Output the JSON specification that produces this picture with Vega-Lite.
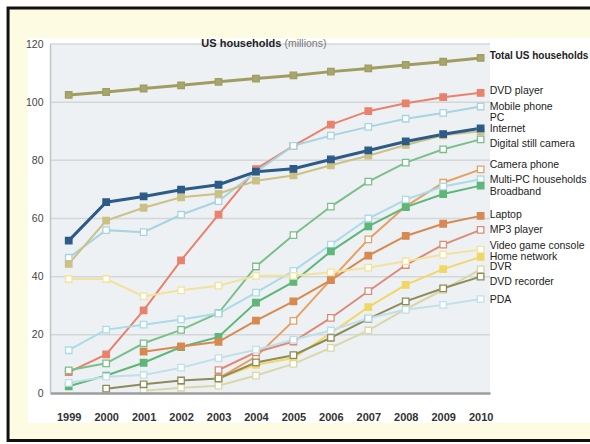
{
  "$schema": "https://vega.github.io/schema/vega-lite/v6.json",
  "width": 440,
  "height": 349,
  "autosize": "none",
  "padding": {"left": 50, "top": 44, "right": 100, "bottom": 51},
  "background": "#ffffff",
  "view": {"stroke": null},
  "resolve": {"axis": {"x": "independent", "y": "independent"}},
  "config": {
    "font": "Liberation Sans, Arial, sans-serif",
    "axis": {"grid": false, "ticks": false, "title": null, "labelFont": "Liberation Sans, Arial, sans-serif"},
    "text": {"font": "Liberation Sans, Arial, sans-serif"}
  },
  "datasets": {
    "series": [
      {"s": "Total US households", "year": 1999, "v": 102.5}, {"s": "Total US households", "year": 2000, "v": 103.5}, {"s": "Total US households", "year": 2001, "v": 104.7}, {"s": "Total US households", "year": 2002, "v": 105.8}, {"s": "Total US households", "year": 2003, "v": 107.0}, {"s": "Total US households", "year": 2004, "v": 108.1}, {"s": "Total US households", "year": 2005, "v": 109.2}, {"s": "Total US households", "year": 2006, "v": 110.5}, {"s": "Total US households", "year": 2007, "v": 111.6}, {"s": "Total US households", "year": 2008, "v": 112.8}, {"s": "Total US households", "year": 2009, "v": 113.9}, {"s": "Total US households", "year": 2010, "v": 115.2},
      {"s": "DVD player", "year": 1999, "v": 7.2}, {"s": "DVD player", "year": 2000, "v": 13.3}, {"s": "DVD player", "year": 2001, "v": 28.4}, {"s": "DVD player", "year": 2002, "v": 45.6}, {"s": "DVD player", "year": 2003, "v": 61.3}, {"s": "DVD player", "year": 2004, "v": 77.0}, {"s": "DVD player", "year": 2005, "v": 85.0}, {"s": "DVD player", "year": 2006, "v": 92.3}, {"s": "DVD player", "year": 2007, "v": 96.9}, {"s": "DVD player", "year": 2008, "v": 99.6}, {"s": "DVD player", "year": 2009, "v": 101.7}, {"s": "DVD player", "year": 2010, "v": 103.2},
      {"s": "Mobile phone", "year": 1999, "v": 46.5}, {"s": "Mobile phone", "year": 2000, "v": 56.0}, {"s": "Mobile phone", "year": 2001, "v": 55.3}, {"s": "Mobile phone", "year": 2002, "v": 61.3}, {"s": "Mobile phone", "year": 2003, "v": 66.0}, {"s": "Mobile phone", "year": 2004, "v": 76.0}, {"s": "Mobile phone", "year": 2005, "v": 85.0}, {"s": "Mobile phone", "year": 2006, "v": 88.5}, {"s": "Mobile phone", "year": 2007, "v": 91.5}, {"s": "Mobile phone", "year": 2008, "v": 94.3}, {"s": "Mobile phone", "year": 2009, "v": 96.3}, {"s": "Mobile phone", "year": 2010, "v": 98.5},
      {"s": "Internet", "year": 1999, "v": 44.4}, {"s": "Internet", "year": 2000, "v": 59.3}, {"s": "Internet", "year": 2001, "v": 63.7}, {"s": "Internet", "year": 2002, "v": 67.3}, {"s": "Internet", "year": 2003, "v": 68.5}, {"s": "Internet", "year": 2004, "v": 73.0}, {"s": "Internet", "year": 2005, "v": 74.8}, {"s": "Internet", "year": 2006, "v": 78.3}, {"s": "Internet", "year": 2007, "v": 81.6}, {"s": "Internet", "year": 2008, "v": 85.3}, {"s": "Internet", "year": 2009, "v": 88.6}, {"s": "Internet", "year": 2010, "v": 90.0},
      {"s": "PC", "year": 1999, "v": 52.4}, {"s": "PC", "year": 2000, "v": 65.6}, {"s": "PC", "year": 2001, "v": 67.6}, {"s": "PC", "year": 2002, "v": 69.9}, {"s": "PC", "year": 2003, "v": 71.6}, {"s": "PC", "year": 2004, "v": 76.1}, {"s": "PC", "year": 2005, "v": 77.1}, {"s": "PC", "year": 2006, "v": 80.3}, {"s": "PC", "year": 2007, "v": 83.4}, {"s": "PC", "year": 2008, "v": 86.5}, {"s": "PC", "year": 2009, "v": 89.0}, {"s": "PC", "year": 2010, "v": 91.0},
      {"s": "Digital still camera", "year": 1999, "v": 7.8}, {"s": "Digital still camera", "year": 2000, "v": 10.2}, {"s": "Digital still camera", "year": 2001, "v": 17.1}, {"s": "Digital still camera", "year": 2002, "v": 21.7}, {"s": "Digital still camera", "year": 2003, "v": 27.5}, {"s": "Digital still camera", "year": 2004, "v": 43.5}, {"s": "Digital still camera", "year": 2005, "v": 54.3}, {"s": "Digital still camera", "year": 2006, "v": 64.1}, {"s": "Digital still camera", "year": 2007, "v": 72.7}, {"s": "Digital still camera", "year": 2008, "v": 79.2}, {"s": "Digital still camera", "year": 2009, "v": 83.8}, {"s": "Digital still camera", "year": 2010, "v": 87.2},
      {"s": "Camera phone", "year": 2003, "v": 5.0}, {"s": "Camera phone", "year": 2004, "v": 12.5}, {"s": "Camera phone", "year": 2005, "v": 24.8}, {"s": "Camera phone", "year": 2006, "v": 39.0}, {"s": "Camera phone", "year": 2007, "v": 52.8}, {"s": "Camera phone", "year": 2008, "v": 64.2}, {"s": "Camera phone", "year": 2009, "v": 72.3}, {"s": "Camera phone", "year": 2010, "v": 76.9},
      {"s": "Multi-PC households", "year": 1999, "v": 14.7}, {"s": "Multi-PC households", "year": 2000, "v": 21.8}, {"s": "Multi-PC households", "year": 2001, "v": 23.5}, {"s": "Multi-PC households", "year": 2002, "v": 25.3}, {"s": "Multi-PC households", "year": 2003, "v": 27.3}, {"s": "Multi-PC households", "year": 2004, "v": 34.5}, {"s": "Multi-PC households", "year": 2005, "v": 42.0}, {"s": "Multi-PC households", "year": 2006, "v": 51.0}, {"s": "Multi-PC households", "year": 2007, "v": 60.0}, {"s": "Multi-PC households", "year": 2008, "v": 66.5}, {"s": "Multi-PC households", "year": 2009, "v": 71.0}, {"s": "Multi-PC households", "year": 2010, "v": 73.5},
      {"s": "Broadband", "year": 1999, "v": 2.3}, {"s": "Broadband", "year": 2000, "v": 6.0}, {"s": "Broadband", "year": 2001, "v": 10.4}, {"s": "Broadband", "year": 2002, "v": 15.8}, {"s": "Broadband", "year": 2003, "v": 19.3}, {"s": "Broadband", "year": 2004, "v": 31.1}, {"s": "Broadband", "year": 2005, "v": 38.2}, {"s": "Broadband", "year": 2006, "v": 48.7}, {"s": "Broadband", "year": 2007, "v": 57.3}, {"s": "Broadband", "year": 2008, "v": 63.9}, {"s": "Broadband", "year": 2009, "v": 68.4}, {"s": "Broadband", "year": 2010, "v": 71.3},
      {"s": "Laptop", "year": 2001, "v": 14.2}, {"s": "Laptop", "year": 2002, "v": 16.0}, {"s": "Laptop", "year": 2003, "v": 17.6}, {"s": "Laptop", "year": 2004, "v": 24.9}, {"s": "Laptop", "year": 2005, "v": 31.5}, {"s": "Laptop", "year": 2006, "v": 38.8}, {"s": "Laptop", "year": 2007, "v": 47.2}, {"s": "Laptop", "year": 2008, "v": 54.0}, {"s": "Laptop", "year": 2009, "v": 58.2}, {"s": "Laptop", "year": 2010, "v": 60.9},
      {"s": "MP3 player", "year": 2003, "v": 7.9}, {"s": "MP3 player", "year": 2004, "v": 14.0}, {"s": "MP3 player", "year": 2005, "v": 17.7}, {"s": "MP3 player", "year": 2006, "v": 25.8}, {"s": "MP3 player", "year": 2007, "v": 35.0}, {"s": "MP3 player", "year": 2008, "v": 44.0}, {"s": "MP3 player", "year": 2009, "v": 51.0}, {"s": "MP3 player", "year": 2010, "v": 56.1},
      {"s": "Video game console", "year": 1999, "v": 39.2}, {"s": "Video game console", "year": 2000, "v": 39.2}, {"s": "Video game console", "year": 2001, "v": 33.2}, {"s": "Video game console", "year": 2002, "v": 35.3}, {"s": "Video game console", "year": 2003, "v": 36.9}, {"s": "Video game console", "year": 2004, "v": 40.3}, {"s": "Video game console", "year": 2005, "v": 40.3}, {"s": "Video game console", "year": 2006, "v": 41.5}, {"s": "Video game console", "year": 2007, "v": 43.1}, {"s": "Video game console", "year": 2008, "v": 45.3}, {"s": "Video game console", "year": 2009, "v": 47.6}, {"s": "Video game console", "year": 2010, "v": 49.3},
      {"s": "Home network", "year": 2003, "v": 5.0}, {"s": "Home network", "year": 2004, "v": 9.7}, {"s": "Home network", "year": 2005, "v": 12.0}, {"s": "Home network", "year": 2006, "v": 20.6}, {"s": "Home network", "year": 2007, "v": 29.5}, {"s": "Home network", "year": 2008, "v": 37.2}, {"s": "Home network", "year": 2009, "v": 42.6}, {"s": "Home network", "year": 2010, "v": 46.8},
      {"s": "DVR", "year": 2001, "v": 0.8}, {"s": "DVR", "year": 2002, "v": 1.8}, {"s": "DVR", "year": 2003, "v": 2.5}, {"s": "DVR", "year": 2004, "v": 6.0}, {"s": "DVR", "year": 2005, "v": 10.0}, {"s": "DVR", "year": 2006, "v": 15.5}, {"s": "DVR", "year": 2007, "v": 21.5}, {"s": "DVR", "year": 2008, "v": 28.8}, {"s": "DVR", "year": 2009, "v": 35.5}, {"s": "DVR", "year": 2010, "v": 42.5},
      {"s": "DVD recorder", "year": 2000, "v": 1.5}, {"s": "DVD recorder", "year": 2001, "v": 3.0}, {"s": "DVD recorder", "year": 2002, "v": 4.3}, {"s": "DVD recorder", "year": 2003, "v": 5.0}, {"s": "DVD recorder", "year": 2004, "v": 10.5}, {"s": "DVD recorder", "year": 2005, "v": 13.0}, {"s": "DVD recorder", "year": 2006, "v": 19.0}, {"s": "DVD recorder", "year": 2007, "v": 25.5}, {"s": "DVD recorder", "year": 2008, "v": 31.5}, {"s": "DVD recorder", "year": 2009, "v": 36.0}, {"s": "DVD recorder", "year": 2010, "v": 40.0},
      {"s": "PDA", "year": 1999, "v": 3.5}, {"s": "PDA", "year": 2000, "v": 5.6}, {"s": "PDA", "year": 2001, "v": 6.2}, {"s": "PDA", "year": 2002, "v": 8.7}, {"s": "PDA", "year": 2003, "v": 12.0}, {"s": "PDA", "year": 2004, "v": 14.9}, {"s": "PDA", "year": 2005, "v": 18.3}, {"s": "PDA", "year": 2006, "v": 21.5}, {"s": "PDA", "year": 2007, "v": 25.7}, {"s": "PDA", "year": 2008, "v": 28.6}, {"s": "PDA", "year": 2009, "v": 30.3}, {"s": "PDA", "year": 2010, "v": 32.3}
    ],
    "labels": [
      {"s": "Total US households", "ly": 115.8},
      {"s": "DVD player", "ly": 103.7},
      {"s": "Mobile phone", "ly": 98.5},
      {"s": "PC", "ly": 94.7},
      {"s": "Internet", "ly": 90.7},
      {"s": "Digital still camera", "ly": 85.5},
      {"s": "Camera phone", "ly": 78.4},
      {"s": "Multi-PC households", "ly": 73.4},
      {"s": "Broadband", "ly": 69.2},
      {"s": "Laptop", "ly": 61.1},
      {"s": "MP3 player", "ly": 56.2},
      {"s": "Video game console", "ly": 50.4},
      {"s": "Home network", "ly": 46.8},
      {"s": "DVR", "ly": 43.2},
      {"s": "DVD recorder", "ly": 38.0},
      {"s": "PDA", "ly": 32.1}
    ],
    "grid": [{"g": 20}, {"g": 40}, {"g": 60}, {"g": 80}, {"g": 100}, {"g": 120}],
    "one": [{"t": "US households"}],
    "two": [{"t": "(millions)"}]
  },
  "layer": [
    {
      "data": {"name": "one"},
      "mark": {"type": "rect", "clip": false, "fill": "#fdfbe1", "stroke": "#111111", "strokeWidth": 3},
      "encoding": {
        "x": {"datum": 1997.38, "type": "quantitative", "axis": null, "scale": {"domain": [1998.5, 2010.25], "nice": false, "zero": false}},
        "x2": {"datum": 2014},
        "y": {"datum": 132.4, "type": "quantitative", "axis": null, "scale": {"domain": [0, 120], "nice": false, "zero": false}},
        "y2": {"datum": -16.3}
      }
    },
    {
      "data": {"name": "one"},
      "mark": {"type": "rect", "clip": false, "fill": "#ffffff"},
      "encoding": {
        "x": {"datum": 1997.91, "type": "quantitative", "axis": null},
        "x2": {"datum": 2014},
        "y": {"datum": 122.07, "type": "quantitative", "axis": null},
        "y2": {"datum": -10.3}
      }
    },
    {
      "data": {"name": "one"},
      "mark": {"type": "rect", "fill": "#eef1f3"},
      "encoding": {
        "x": {"datum": 1998.5, "type": "quantitative", "axis": null},
        "x2": {"datum": 2010.25},
        "y": {"datum": 0, "type": "quantitative", "axis": null},
        "y2": {"datum": 120}
      }
    },
    {
      "data": {"name": "grid"},
      "mark": {"type": "rule", "stroke": "#d4d7d9", "strokeWidth": 1.5},
      "encoding": {
        "x": {"datum": 1998.5, "type": "quantitative", "axis": null},
        "x2": {"datum": 2010.25},
        "y": {"field": "g", "type": "quantitative", "axis": null}
      }
    },
    {
      "data": {"name": "series"},
      "transform": [{"filter": "datum.s !== 'PC' && datum.s !== 'Total US households'"}],
      "mark": {"type": "line", "strokeWidth": 2},
      "encoding": {
        "x": {"field": "year", "type": "quantitative", "axis": {"zindex": 1, "values": [1999, 2000, 2001, 2002, 2003, 2004, 2005, 2006, 2007, 2008, 2009, 2010], "format": "d", "labelOverlap": false, "labelFlush": false, "labelBound": false, "labelFontWeight": "bold", "labelFontSize": 11, "labelColor": "#333333", "labelPadding": 18, "domainColor": "#9c9c9c", "domainWidth": 2.5}},
        "y": {"field": "v", "type": "quantitative", "axis": {"zindex": 1, "values": [0, 20, 40, 60, 80, 100, 120], "labelOverlap": false, "labelFlush": false, "labelFontSize": 10.5, "labelColor": "#444444", "labelPadding": 7, "domainColor": "#c2c5c7", "domainWidth": 1.5}},
        "detail": {"field": "s"},
        "stroke": {"field": "s", "type": "nominal", "legend": null, "scale": {
          "domain": ["Total US households", "DVD player", "Mobile phone", "PC", "Internet", "Digital still camera", "Camera phone", "Multi-PC households", "Broadband", "Laptop", "MP3 player", "Video game console", "Home network", "DVR", "DVD recorder", "PDA"],
          "range": ["#a09d63", "#e8826c", "#a6d4e2", "#2d5b88", "#cbc186", "#7bbf8c", "#e6a064", "#a9dbe8", "#5eb679", "#d88950", "#dd8a78", "#f2e29c", "#f0d766", "#d9d7a9", "#8e8b5a", "#bfe0ea"]}}
      }
    },
    {
      "data": {"name": "series"},
      "transform": [{"filter": "datum.s === 'PC' || datum.s === 'Total US households'"}],
      "mark": {"type": "line", "strokeWidth": 3},
      "encoding": {
        "x": {"field": "year", "type": "quantitative", "axis": null},
        "y": {"field": "v", "type": "quantitative", "axis": null},
        "stroke": {"field": "s", "type": "nominal", "legend": null}
      }
    },
    {
      "data": {"name": "series"},
      "mark": {"type": "point", "shape": "square", "size": 42, "strokeWidth": 1.3, "opacity": 1, "filled": false},
      "encoding": {
        "x": {"field": "year", "type": "quantitative", "axis": null},
        "y": {"field": "v", "type": "quantitative", "axis": null},
        "stroke": {"field": "s", "type": "nominal", "legend": null},
        "fill": {"field": "s", "type": "nominal", "legend": null, "scale": {
          "domain": ["Total US households", "DVD player", "Mobile phone", "PC", "Internet", "Digital still camera", "Camera phone", "Multi-PC households", "Broadband", "Laptop", "MP3 player", "Video game console", "Home network", "DVR", "DVD recorder", "PDA"],
          "range": ["#a9a66c", "#e8826c", "#ffffff", "#2d5b88", "#cbc186", "#ffffff", "#ffffff", "#ffffff", "#5eb679", "#d88950", "#ffffff", "#ffffff", "#f0d766", "#ffffff", "#ffffff", "#ffffff"]}}
      }
    },
    {
      "data": {"name": "labels"},
      "transform": [{"filter": "datum.s !== 'Total US households'"}],
      "mark": {"type": "text", "align": "left", "baseline": "middle", "dx": 9, "fontSize": 10.5, "fill": "#222222", "clip": false},
      "encoding": {
        "x": {"datum": 2010, "type": "quantitative", "axis": null},
        "y": {"field": "ly", "type": "quantitative", "axis": null},
        "text": {"field": "s"}
      }
    },
    {
      "data": {"name": "labels"},
      "transform": [{"filter": "datum.s === 'Total US households'"}],
      "mark": {"type": "text", "align": "left", "baseline": "middle", "dx": 9, "fontSize": 10, "fontWeight": "bold", "fill": "#222222", "clip": false},
      "encoding": {
        "x": {"datum": 2010, "type": "quantitative", "axis": null},
        "y": {"field": "ly", "type": "quantitative", "axis": null},
        "text": {"field": "s"}
      }
    },
    {
      "data": {"name": "one"},
      "mark": {"type": "text", "align": "right", "baseline": "middle", "fontSize": 11, "fontWeight": "bold", "fill": "#222222", "clip": false},
      "encoding": {
        "x": {"datum": 2004.68, "type": "quantitative", "axis": null},
        "y": {"datum": 120, "type": "quantitative", "axis": null},
        "text": {"field": "t"}
      }
    },
    {
      "data": {"name": "two"},
      "mark": {"type": "text", "align": "left", "baseline": "middle", "fontSize": 10.5, "fill": "#777777", "clip": false},
      "encoding": {
        "x": {"datum": 2004.76, "type": "quantitative", "axis": null},
        "y": {"datum": 120, "type": "quantitative", "axis": null},
        "text": {"field": "t"}
      }
    }
  ]
}
